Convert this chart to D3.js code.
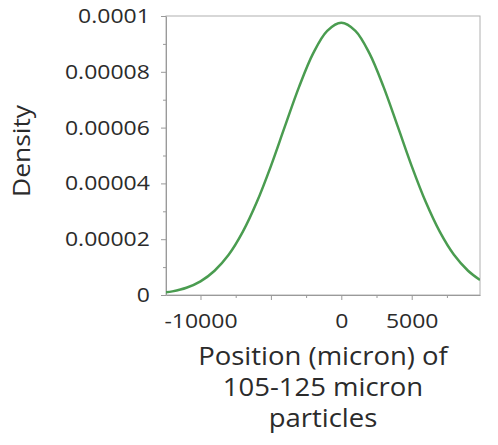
<!DOCTYPE html>
<html>
<head>
<meta charset="utf-8">
<script src="https://cdn.jsdelivr.net/npm/d3@7"></script>
<style>
  html, body { margin: 0; padding: 0; background: #ffffff; }
  svg { display: block; }
  text { font-family: "Open Sans", "Noto Sans", sans-serif; fill: #2b2b2b; }
</style>
</head>
<body>
<svg id="chart" width="498" height="445"></svg>
<script>
// Position (micron) along the bed, and the fitted density at each position
const positions = [-12450, -12000, -11000, -10000, -9000, -8000, -7000, -6000, -5000, -4000,
  -3000, -2000, -1000, 0, 1000, 2000, 3000, 4000, 5000, 6000, 7000, 8000, 9000, 9850];
const densities = [0.00000095, 0.0000013, 0.0000026, 0.0000049, 0.0000087, 0.0000144,
  0.0000226, 0.0000333, 0.0000462, 0.0000605, 0.0000746, 0.0000866, 0.0000947, 0.0000976,
  0.0000947, 0.0000866, 0.0000746, 0.0000605, 0.0000462, 0.0000333, 0.0000226, 0.0000144,
  0.0000087, 0.0000054];

// Axis ticks
const xMajorTicks = [-10000, -5000, 0, 5000];
const xTickLabels = ["-10000", "", "0", "5000"];
const xMinorTicks = [-7500, -2500, 2500, 7500];
const yMajorTicks = [0, 0.00002, 0.00004, 0.00006, 0.00008, 0.0001];
const yTickLabels = ["0", "0.00002", "0.00004", "0.00006", "0.00008", "0.0001"];
const yMinorTicks = [0.00001, 0.00003, 0.00005, 0.00007, 0.00009];

const xDomain = [-12450, 9850];
const yDomain = [0, 0.0001];

const xTitleLines = ["Position (micron) of", "105-125 micron", "particles"];
const yTitle = "Density";

const svg = d3.select("#chart");
const plot = { left: 166, right: 480, top: 16, bottom: 295 };

const x = d3.scaleLinear().domain(xDomain).range([plot.left, plot.right]);
const y = d3.scaleLinear().domain(yDomain).range([plot.bottom, plot.top]);

const axisColor = "#9a9a9a";
const stretch = 1.15;

// Frame around the plot area
svg.append("rect")
  .attr("x", plot.left).attr("y", plot.top)
  .attr("width", plot.right - plot.left).attr("height", plot.bottom - plot.top)
  .attr("fill", "none").attr("stroke", "#b0b0b0").attr("stroke-width", 1);

// Minor ticks
svg.append("g")
  .attr("transform", `translate(0,${plot.bottom})`)
  .call(d3.axisBottom(x).tickValues(xMinorTicks).tickSize(3).tickFormat(""))
  .call(g => g.select(".domain").remove())
  .call(g => g.selectAll("line").attr("stroke", axisColor));
svg.append("g")
  .attr("transform", `translate(${plot.left},0)`)
  .call(d3.axisLeft(y).tickValues(yMinorTicks).tickSize(3).tickFormat(""))
  .call(g => g.select(".domain").remove())
  .call(g => g.selectAll("line").attr("stroke", axisColor));

// Major x axis
svg.append("g")
  .attr("transform", `translate(0,${plot.bottom})`)
  .call(d3.axisBottom(x).tickValues(xMajorTicks).tickSize(5).tickSizeOuter(0).tickPadding(14)
    .tickFormat((d, i) => xTickLabels[i]))
  .call(g => g.select(".domain").attr("stroke", axisColor))
  .call(g => g.selectAll("line").attr("stroke", axisColor))
  .call(g => g.selectAll("text")
    .attr("font-size", 20).attr("fill", "#2b2b2b")
    .attr("transform", `scale(${stretch},1)`));

// Major y axis
svg.append("g")
  .attr("transform", `translate(${plot.left},0)`)
  .call(d3.axisLeft(y).tickValues(yMajorTicks).tickSize(5).tickSizeOuter(0).tickPadding(9)
    .tickFormat((d, i) => yTickLabels[i]))
  .call(g => g.select(".domain").attr("stroke", axisColor))
  .call(g => g.selectAll("line").attr("stroke", axisColor))
  .call(g => g.selectAll("text")
    .attr("font-size", 20).attr("fill", "#2b2b2b")
    .attr("transform", `scale(${stretch},1)`));

// Density curve
const clipId = "plot-clip";
svg.append("clipPath").attr("id", clipId)
  .append("rect")
  .attr("x", plot.left).attr("y", plot.top - 4)
  .attr("width", plot.right - plot.left).attr("height", plot.bottom - plot.top + 4);

const line = d3.line()
  .x((d, i) => x(positions[i]))
  .y(d => y(d))
  .curve(d3.curveCatmullRom.alpha(0.5));

svg.append("path")
  .datum(densities)
  .attr("clip-path", `url(#${clipId})`)
  .attr("d", line)
  .attr("fill", "none")
  .attr("stroke", "#4a9c50")
  .attr("stroke-width", 2.5)
  .attr("stroke-linejoin", "round");

// Axis titles
const xTitle = svg.append("text")
  .attr("text-anchor", "middle")
  .attr("font-size", 25)
  .attr("transform", `translate(${(plot.left + plot.right) / 2},365) scale(1.1,1)`);
xTitle.selectAll("tspan")
  .data(xTitleLines)
  .join("tspan")
  .attr("x", 0)
  .attr("y", (d, i) => i * 31)
  .text(d => d);

svg.append("text")
  .attr("text-anchor", "middle")
  .attr("font-size", 24)
  .attr("transform", "translate(30,151) rotate(-90) scale(1.1,1)")
  .text(yTitle);
</script>
</body>
</html>
